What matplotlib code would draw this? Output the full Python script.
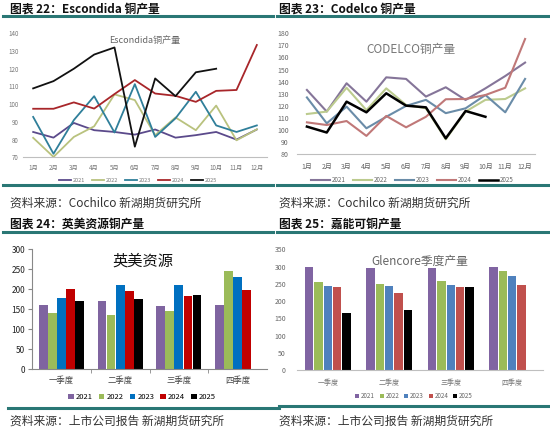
import matplotlib.pyplot as plt
import numpy as np
from matplotlib.lines import Line2D

plt.rcParams['font.family'] = ['Noto Sans CJK SC', 'DejaVu Sans']

years = ['2021', '2022', '2023', '2024', '2025']
months = ['1月', '2月', '3月', '4月', '5月', '6月', '7月', '8月', '9月', '10月', '11月', '12月']
quarters = ['一季度', '二季度', '三季度', '四季度']

# Escondida 月度铜产量
esc_2021 = [84.3, 81.1, 89.4, 85.3, 84.3, 82.8, 85.7, 81.1, 82.5, 84.3, 80.0, 85.7]
esc_2022 = [81.0, 70.2, 81.5, 87.5, 105.5, 102.3, 82.5, 92.5, 85.3, 99.2, 79.6, 85.8]
esc_2023 = [92.8, 72.0, 91.0, 104.5, 84.0, 111.3, 81.5, 92.0, 107.0, 88.0, 84.3, 88.0]
esc_2024 = [97.4, 97.4, 101.0, 97.5, 105.7, 113.6, 106.0, 104.7, 101.3, 107.5, 108.0, 133.4]
esc_2025 = [108.9, 113.0, 120.0, 128.0, 132.0, 76.0, 114.5, 104.5, 118.0, 120.0]

# Codelco 月度铜产量
cod_2021 = [133.2, 115.3, 138.7, 123.5, 143.6, 142.3, 127.7, 135.4, 124.9, 134.5, 144.7, 155.8]
cod_2022 = [113.3, 115.3, 135.0, 116.5, 134.5, 120.8, 118.0, 92.4, 115.3, 125.0, 125.7, 134.5]
cod_2023 = [127.0, 105.6, 119.4, 101.5, 111.0, 120.0, 125.0, 114.0, 118.0, 129.0, 114.7, 142.3]
cod_2024 = [106.4, 104.2, 107.5, 95.2, 111.7, 102.3, 111.0, 125.5, 125.7, 129.0, 135.0, 175.3]
cod_2025 = [102.9, 98.0, 123.5, 114.7, 130.4, 120.2, 118.8, 93.2, 115.8, 111.0]

# 英美资源 季度铜产量
aa_2021 = [162, 170, 158, 162]
aa_2022 = [140, 135, 147, 247]
aa_2023 = [179, 211, 211, 232]
aa_2024 = [200, 197, 183, 199]
aa_2025 = [170, 175, 186]

# Glencore 季度铜产量
gl_2021 = [300, 295, 297, 299]
gl_2022 = [256, 251, 259, 286]
gl_2023 = [243, 243, 247, 273]
gl_2024 = [240, 223, 241, 246]
gl_2025 = [167, 175, 240]

W, H = 550, 432
fig = plt.figure(figsize=(5.5, 4.32), dpi=100)
teal = '#2A7775'


def rect(x0, y0, x1, y1):
    return [x0 / W, 1 - y1 / H, (x1 - x0) / W, (y1 - y0) / H]


def hline(x0, x1, y, lw=2.2):
    fig.add_artist(Line2D([x0 / W, x1 / W], [1 - y / H, 1 - y / H],
                          transform=fig.transFigure, color=teal, lw=lw))


def ftext(x, y, s, **kw):
    fig.text(x / W, 1 - y / H, s, va='center', **kw)


# 标题、分隔线与来源
ftext(10, 9, '图表 22：Escondida 铜产量', fontsize=8.5, fontweight='bold', color='#111111')
ftext(279, 9, '图表 23：Codelco 铜产量', fontsize=8.5, fontweight='bold', color='#111111')
ftext(10, 224, '图表 24：英美资源铜产量', fontsize=8.5, fontweight='bold', color='#111111')
ftext(279, 224, '图表 25：嘉能可铜产量', fontsize=8.5, fontweight='bold', color='#111111')
hline(3, 273, 16)
hline(277, 548, 16)
hline(3, 273, 185)
hline(277, 548, 185)
hline(3, 273, 232)
hline(277, 548, 232)
hline(8, 279, 408)
hline(279, 550, 406)
ftext(10, 203, '资料来源：Cochilco 新湖期货研究所', fontsize=8.5, color='#333333')
ftext(279, 203, '资料来源：Cochilco 新湖期货研究所', fontsize=8.5, color='#333333')
ftext(10, 421, '资料来源：上市公司报告 新湖期货研究所', fontsize=8.5, color='#333333')
ftext(279, 421, '资料来源：上市公司报告 新湖期货研究所', fontsize=8.5, color='#333333')


def style_axes(ax, label_size, label_color, left_line=False):
    for s in ['top', 'right']:
        ax.spines[s].set_visible(False)
    ax.spines['left'].set_visible(left_line)
    ax.spines['bottom'].set_color('#BFBFBF')
    ax.spines['left'].set_color('#888888')
    ax.tick_params(axis='both', labelsize=label_size, colors=label_color, length=0, pad=2)


# 图 22：Escondida
ax1 = fig.add_axes(rect(23, 33.3, 267, 157.3))
x = np.arange(1, 13)
colors1 = ['#5B4A8B', '#B9C27E', '#2F7F9A', '#A8262A', '#111111']
for yr, data, c in zip(years, [esc_2021, esc_2022, esc_2023, esc_2024, esc_2025], colors1):
    ax1.plot(x[:len(data)], data, color=c, lw=1.3, label=yr)
ax1.set_xlim(0.5, 12.5)
ax1.set_ylim(70, 140)
ax1.set_yticks(np.arange(70, 141, 10))
ax1.set_xticks(x, months)
style_axes(ax1, 4.5, '#777777')
ax1.tick_params(axis='y', pad=3)
ax1.tick_params(axis='x', pad=5)
ax1.text(0.5, 0.94, 'Escondida铜产量', transform=ax1.transAxes, ha='center', va='center',
         fontsize=6.5, color='#666666')
ax1.legend(loc='center', bbox_to_anchor=(138 / W, 1 - 180 / H), bbox_transform=fig.transFigure,
           ncol=5, frameon=False, fontsize=4, handlelength=2.2, columnspacing=1.2,
           handletextpad=0.3, labelcolor='#777777')

# 图 23：Codelco
ax2 = fig.add_axes(rect(297, 33.3, 535, 154.3))
colors2 = ['#857599', '#BCCB8E', '#6A8CA8', '#C07878', '#000000']
for yr, data, c in zip(years, [cod_2021, cod_2022, cod_2023, cod_2024, cod_2025], colors2):
    ax2.plot(x[:len(data)], data, color=c, lw=1.8 if yr == '2025' else 1.5, label=yr)
ax2.set_xlim(0.5, 12.5)
ax2.set_ylim(80, 180)
ax2.set_yticks(np.arange(80, 181, 10))
ax2.set_xticks(x, months)
style_axes(ax2, 5, '#666666')
ax2.tick_params(axis='x', pad=6)
ax2.tick_params(axis='y', pad=6)
ax2.text(0.48, 0.87, 'CODELCO铜产量', transform=ax2.transAxes, ha='center', va='center',
         fontsize=8.5, color='#777777')
ax2.legend(loc='center', bbox_to_anchor=(412 / W, 1 - 180 / H), bbox_transform=fig.transFigure,
           ncol=5, frameon=False, fontsize=4.5, handlelength=3, columnspacing=1.2,
           handletextpad=0.3, labelcolor='#666666')


def bars(ax, series, colors, width, step):
    q = np.arange(4)
    for i, (yr, data, c) in enumerate(zip(years, series, colors)):
        ax.bar(q[:len(data)] + (i - 2) * step, data, width=width, color=c, label=yr)
    ax.set_xlim(-0.5, 3.5)
    ax.set_xticks(q, quarters)


# 图 24：英美资源
ax3 = fig.add_axes(rect(32, 249.3, 267, 369.3))
colors3 = ['#7F64A0', '#9BBB59', '#0070C0', '#C00000', '#000000']
bars(ax3, [aa_2021, aa_2022, aa_2023, aa_2024, aa_2025], colors3, 0.15, 0.155)
ax3.set_ylim(0, 300)
ax3.set_yticks(np.arange(0, 301, 50))
style_axes(ax3, 6, '#222222', left_line=True)
ax3.spines['bottom'].set_color('#888888')
ax3.tick_params(axis='y', length=3, color='#888888', direction='out')
ax3.set_xticks([0.5, 1.5, 2.5], minor=True)
ax3.tick_params(axis='x', which='minor', length=3, color='#888888')
ax3.tick_params(axis='x', labelcolor='#444444', labelsize=6, pad=5)
ax3.text(0.47, 0.9, '英美资源', transform=ax3.transAxes, ha='center', va='center',
         fontsize=11, color='#111111')
ax3.legend(loc='center', bbox_to_anchor=(142 / W, 1 - 397 / H), bbox_transform=fig.transFigure,
           ncol=5, frameon=False, fontsize=5.5, handlelength=0.7, handleheight=0.7,
           columnspacing=0.8, handletextpad=0.3)

# 图 25：嘉能可
ax4 = fig.add_axes(rect(297, 249.3, 543, 370.3))
colors4 = ['#8064A2', '#9BBB59', '#4F81BD', '#C0504D', '#000000']
bars(ax4, [gl_2021, gl_2022, gl_2023, gl_2024, gl_2025], colors4, 0.135, 0.152)
ax4.set_ylim(0, 350)
ax4.set_yticks(np.arange(0, 351, 50))
style_axes(ax4, 5, '#666666')
ax4.tick_params(axis='x', pad=6, labelcolor='#777777')
ax4.tick_params(axis='y', pad=8)
ax4.text(0.5, 0.9, 'Glencore季度产量', transform=ax4.transAxes, ha='center', va='center',
         fontsize=8.5, color='#666666')
ax4.legend(loc='center', bbox_to_anchor=(414 / W, 1 - 396 / H), bbox_transform=fig.transFigure,
           ncol=5, frameon=False, fontsize=4.5, handlelength=0.6, handleheight=0.6,
           columnspacing=0.8, handletextpad=0.3, labelcolor='#666666')

fig.savefig('out.png', dpi=100)
